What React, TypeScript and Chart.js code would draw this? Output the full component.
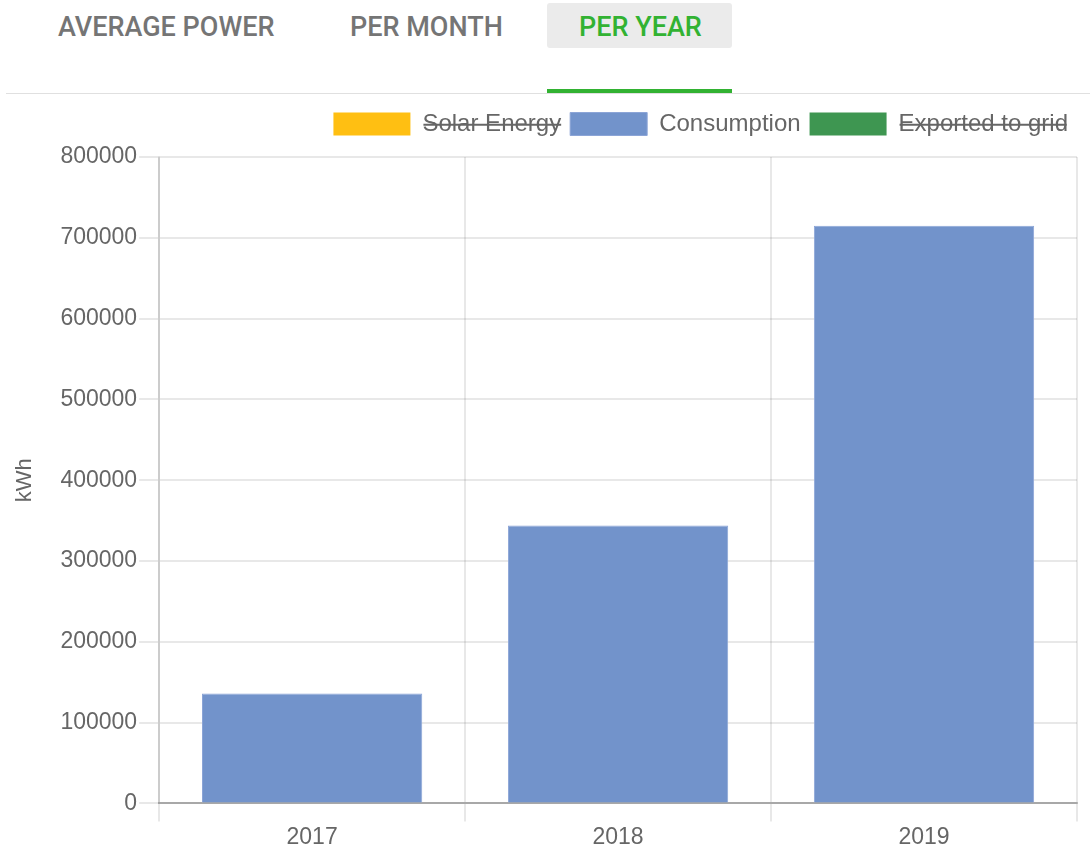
import React, { useEffect, useRef } from "react";
import { Chart, registerables } from "chart.js";

Chart.register(...registerables);

const years = ["2017", "2018", "2019"];
const consumption = [136000, 344000, 715000];
const solarEnergy: (number | null)[] = [null, null, null];
const exportedToGrid: (number | null)[] = [null, null, null];
const tabs = ["AVERAGE POWER", "PER MONTH", "PER YEAR"];
const yTicksMax = 800000;
const yStep = 100000;

const tabLeft = [58, 350, 579];

const legendMargin = {
  id: "legendMargin",
  beforeInit(chart: any) {
    const legend = chart.legend;
    if (!legend) return;
    const origFit = legend.fit;
    legend.fit = function () {
      origFit.call(this);
      this.height += 11;
    };
  },
};

export default function App() {
  const ref = useRef<HTMLCanvasElement | null>(null);
  useEffect(() => {
    if (!ref.current) return;
    const font = "'Liberation Sans', Arial, Helvetica, sans-serif";
    const chart = new Chart(ref.current, {
      type: "bar",
      data: {
        labels: years,
        datasets: [
          { label: "Solar Energy", data: solarEnergy, backgroundColor: "#FFBF12", hidden: true },
          { label: "Consumption", data: consumption, backgroundColor: "#7293CB", borderColor: "rgba(140,165,215,1)", borderWidth: 1 },
          { label: "Exported to grid", data: exportedToGrid, backgroundColor: "#3E9651", hidden: true },
        ],
      },
      plugins: [legendMargin],
      options: {
        animation: false,
        responsive: false,
        maintainAspectRatio: false,
        layout: { padding: { left: 8, right: 13, top: 0, bottom: 0 } },
        plugins: {
          tooltip: { enabled: false },
          legend: {
            position: "top",
            align: "end",
            labels: {
              boxWidth: 77,
              boxHeight: 23,
              padding: 9,
              color: "#666",
              font: { family: font, size: 24 },
            },
          },
        },
        scales: {
          x: {
            grid: { color: "rgba(0,0,0,0.09)", lineWidth: 2, tickLength: 18, offset: true },
            border: { color: "rgba(0,0,0,0.28)", width: 2 },
            ticks: { color: "#666", font: { family: font, size: 23 }, padding: 2 },
          },
          y: {
            min: 0,
            max: yTicksMax,
            grid: { color: "rgba(0,0,0,0.09)", lineWidth: 2, tickLength: 20 },
            border: { color: "rgba(0,0,0,0.12)", width: 2 },
            ticks: {
              stepSize: yStep,
              color: "#666",
              font: { family: font, size: 23 },
              padding: 2,
              callback: (v: any) => String(v),
            },
            title: {
              display: true,
              text: "kWh",
              color: "#666",
              font: { family: font, size: 22 },
              padding: { top: 4, bottom: 20 },
            },
          },
        },
      },
    });
    return () => chart.destroy();
  }, []);

  return (
    <div style={{ position: "absolute", left: 0, top: 0, width: 1090, height: 845, overflow: "hidden", background: "#fff" }}>
      <div style={{ position: "absolute", left: 547, top: 3, width: 185, height: 45, background: "#ebebeb", borderRadius: 3 }} />
      {tabs.map((t, i) => (
        <div
          key={t}
          style={{
            position: "absolute",
            left: tabLeft[i],
            top: 5,
            height: 45,
            lineHeight: "45px",
            fontFamily: "Roboto, sans-serif",
            fontWeight: 500,
            fontSize: 27,
            color: i === 2 ? "#32B232" : "#757575",
            whiteSpace: "nowrap",
          }}
        >
          {t}
        </div>
      ))}
      <div style={{ position: "absolute", left: 6, right: 0, top: 93, height: 1, background: "#e0e0e0" }} />
      <div style={{ position: "absolute", left: 547, width: 185, top: 89, height: 4, background: "#32B232" }} />
      <canvas ref={ref} width={1090} height={750} style={{ position: "absolute", left: 0, top: 103, width: 1090, height: 750 }} />
    </div>
  );
}
